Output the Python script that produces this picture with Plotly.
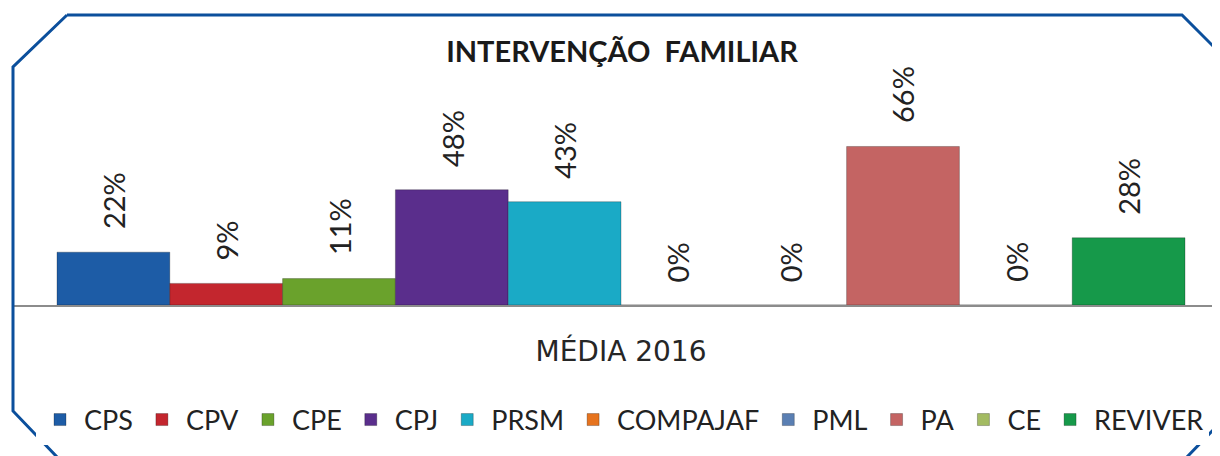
import plotly.graph_objects as go

series = ["CPS", "CPV", "CPE", "CPJ", "PRSM", "COMPAJAF", "PML", "PA", "CE", "REVIVER"]
values = [22, 9, 11, 48, 43, 0, 0, 66, 0, 28]
colors = ["#1d5ca6", "#c3262e", "#6aa22c", "#5a2e8c", "#1aaac6", "#e6731e",
          "#5a7fb3", "#c46463", "#a3bb62", "#16994a"]
category = "MÉDIA 2016"
title = "INTERVENÇÃO  FAMILIAR"

# page offset of the browser body (8px) is compensated in the figure geometry
W, H = 1212, 448
L, R, T, B = 6, 0, 52, 151
PW, PH = W - L - R, H - T - B


def px(x):
    return (x - 8 - L) / PW


def py(y):
    return (H - B - (y - 8)) / PH


fig = go.Figure()
for i, (name, v, c) in enumerate(zip(series, values, colors)):
    fig.add_trace(go.Bar(
        x=[i], y=[v], name=name, width=1,
        marker=dict(color=c, line=dict(color="rgba(0,0,0,0.25)", width=1)),
        hoverinfo="name+y",
    ))
    fig.add_annotation(
        x=i, y=v, text=f"{v}%", textangle=-90, showarrow=False,
        xref="x", yref="y", yanchor="bottom", yshift=21,
        font=dict(family="Lato, Roboto, sans-serif", size=29, color="#222222"),
    )

n = len(series)
fig.update_layout(
    width=W, height=H,
    margin=dict(l=L, r=R, t=T, b=B, autoexpand=False),
    paper_bgcolor="white", plot_bgcolor="white",
    barmode="overlay",
    showlegend=True,
    title=dict(text=f"<b>{title}</b>", x=614 / W, xref="container", xanchor="center",
               y=1 - 44 / H, yref="container", yanchor="middle",
               font=dict(family="Lato, Open Sans, sans-serif", size=29, color="#1a1a1a")),
    xaxis=dict(range=[-0.5 - 43 / 112.8, n - 0.5 + 35 / 112.8],
               tickvals=[(n - 1) / 2], ticktext=[category], ticks="",
               ticklabelstandoff=21,
               showline=True, linecolor="#8c8c8c", linewidth=1.5,
               showgrid=False, zeroline=False, fixedrange=True,
               tickfont=dict(family="DejaVu Sans, sans-serif", size=28, color="#262626")),
    yaxis=dict(range=[0, 102], visible=False, showgrid=False, zeroline=False),
    legend=dict(orientation="h", x=px(36), xanchor="left", xref="paper",
                y=py(420), yanchor="middle",
                font=dict(family="Lato, Roboto, sans-serif", size=27, color="#222222"),
                itemwidth=38, tracegroupgap=0),
)

# frame with cut corners (page pixel coordinates)
frame_x = [67, 1182, 1240, 1240, 1186, 58, 13, 13, 67]
frame_y = [15, 15, 73, 402, 458, 458, 411, 67, 15]
path = "M " + " L ".join(f"{px(x):.5f},{py(y):.5f}" for x, y in zip(frame_x, frame_y))
fig.add_shape(type="path", path=path, xref="paper", yref="paper",
              line=dict(color="#0b4f9c", width=3), layer="above")
fig.write_html("out.html")
